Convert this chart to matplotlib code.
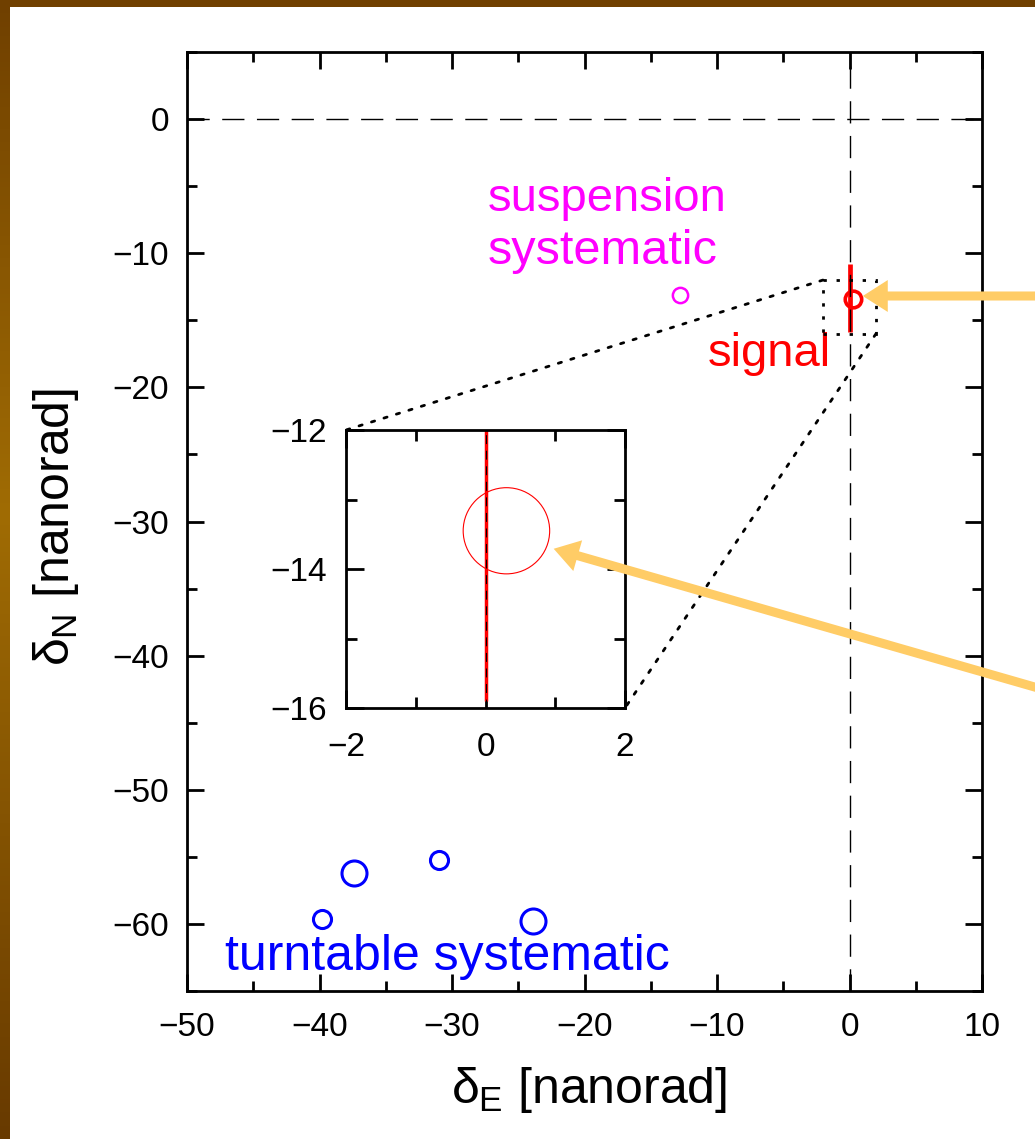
import numpy as np
import matplotlib
matplotlib.use("Agg")
import matplotlib.pyplot as plt
from matplotlib.patches import Rectangle, Ellipse, ConnectionPatch, FancyArrowPatch
from matplotlib.ticker import MultipleLocator

# ---- data ----
turntable_x = [-39.8, -37.4, -31.0, -23.9]
turntable_y = [-59.6, -56.2, -55.2, -59.8]

suspension_x = [-12.8]
suspension_y = [-13.1]

signal_x = [0.3]
signal_y = [-13.45]
signal_radius = 0.62
signal_bar_x = [0.0, 0.0]
signal_bar_y = [-15.9, -10.8]

main_xticks = [-50, -40, -30, -20, -10, 0, 10]
main_yticks = [-60, -50, -40, -30, -20, -10, 0]
inset_xticks = [-2, 0, 2]
inset_yticks = [-16, -14, -12]
zoom_box = [-2, 2, -16, -12]

# ---- style ----
FONT = ["Liberation Sans", "DejaVu Sans"]
plt.rcParams["font.family"] = FONT
plt.rcParams["mathtext.fontset"] = "custom"
plt.rcParams["mathtext.rm"] = "Liberation Sans"
plt.rcParams["mathtext.it"] = "Liberation Sans"
plt.rcParams["mathtext.sf"] = "Liberation Sans"

TICK_FS = 24
NOTE_FS = 34
LABEL_FS = 36

W, H = 1035, 1139
fig = plt.figure(figsize=(W / 100, H / 100), dpi=100)
fig.patch.set_facecolor("white")

def fx(px):
    return px / W

def fy(py):
    return 1 - py / H

# brown frame strips
frame_ax = fig.add_axes([0, 0, 1, 1], zorder=-10)
frame_ax.axis("off")
stops = np.array([[0x70, 0x40, 0x00], [0xa0, 0x6c, 0x04], [0x68, 0x3a, 0x00]]) / 255.0
t = np.linspace(0, 1, 256)
grad = np.stack([np.interp(t, [0, 0.45, 1], stops[:, k]) for k in range(3)], axis=1)
frame_ax.imshow(grad[:, None, :], extent=[0, 10, H, 0], aspect="auto")
frame_ax.add_patch(Rectangle((0, 0), W, 7, color="#704000", lw=0))
frame_ax.set_xlim(0, W)
frame_ax.set_ylim(H, 0)

# ---- main axes ----
ax = fig.add_axes([fx(187), fy(991), fx(982) - fx(187), fy(52) - fy(991)])
ax.set_xlim(-50, 10)
ax.set_ylim(-65, 5)
ax.set_xticks(main_xticks)
ax.set_yticks(main_yticks)
ax.xaxis.set_minor_locator(MultipleLocator(5))
ax.yaxis.set_minor_locator(MultipleLocator(5))
ax.tick_params(which="both", direction="in", top=True, right=True, width=2, labelsize=TICK_FS)
ax.tick_params(which="major", length=12)
ax.tick_params(which="minor", length=7.5)
ax.tick_params(axis="x", pad=15)
ax.tick_params(axis="y", pad=13)
for s in ax.spines.values():
    s.set_linewidth(2)

ax.axhline(0, color="black", lw=1, dashes=(16, 9), zorder=4)
ax.axvline(0, color="black", lw=1, dashes=(16, 9), zorder=4)

for x, y, ms in zip(turntable_x, turntable_y, [13, 18, 13, 18]):
    ax.plot([x], [y], "o", mfc="none", mec="#0000ff", ms=ms, mew=2.2)
ax.plot(suspension_x, suspension_y, "o", mfc="none", mec="#ff00ff", ms=11, mew=1.8)

ax.plot(signal_bar_x, signal_bar_y, color="#ff0000", lw=3.4, solid_capstyle="butt", zorder=3)
ax.add_patch(Ellipse((signal_x[0], signal_y[0]), 2 * signal_radius, 2 * signal_radius,
                     fill=False, ec="#ff0000", lw=2.6, zorder=3))

ax.add_patch(Rectangle((zoom_box[0], zoom_box[2]), zoom_box[1] - zoom_box[0],
                       zoom_box[3] - zoom_box[2], fill=False, ec="black", lw=2,
                       ls=(0, (1.2, 3.5)), zorder=5))

ax.text(-27.3, -6.87, "suspension", color="#ff00ff", fontsize=NOTE_FS, ha="left", va="baseline")
ax.text(-27.3, -10.82, "systematic", color="#ff00ff", fontsize=NOTE_FS + 1, ha="left", va="baseline")
ax.text(-10.7, -18.43, "signal", color="#ff0000", fontsize=NOTE_FS, ha="left", va="baseline")
ax.text(-47.1, -63.4, "turntable systematic", color="#0000ff", fontsize=NOTE_FS + 2,
        ha="left", va="baseline")

# ---- inset ----
ins = fig.add_axes([fx(346), fy(708), fx(625) - fx(346), fy(430) - fy(708)])
ins.set_xlim(zoom_box[0], zoom_box[1])
ins.set_ylim(zoom_box[2], zoom_box[3])
ins.set_xticks(inset_xticks)
ins.set_yticks(inset_yticks)
ins.xaxis.set_minor_locator(MultipleLocator(1))
ins.yaxis.set_minor_locator(MultipleLocator(1))
ins.tick_params(which="both", direction="in", top=True, right=True, width=2, labelsize=TICK_FS)
ins.tick_params(which="major", length=13)
ins.tick_params(which="minor", length=8)
ins.tick_params(axis="x", pad=17)
ins.tick_params(axis="y", pad=14)
for s in ins.spines.values():
    s.set_linewidth(2)
ins.plot(signal_bar_x, signal_bar_y, color="#ff0000", lw=2.5, solid_capstyle="butt")
ins.axvline(0, color="black", lw=0.8, dashes=(8, 6), zorder=4)
ins.add_patch(Ellipse((signal_x[0], signal_y[0]), 2 * signal_radius, 2 * signal_radius,
                      fill=False, ec="#ff0000", lw=0.8))

for (xa, ya) in [(zoom_box[0], zoom_box[3]), (zoom_box[1], zoom_box[2])]:
    con = ConnectionPatch(xyA=(xa, ya), coordsA=ax.transData, xyB=(xa, ya), coordsB=ins.transData,
                          color="black", lw=2, ls=(0, (1.2, 3.5)), zorder=6)
    fig.add_artist(con)

# ---- axis labels ----
fig.text(fx(589), fy(1090), r"$\delta_\mathrm{E}$ [nanorad]", fontsize=LABEL_FS,
         ha="center", va="center")
fig.text(fx(56), fy(527), r"$\delta_\mathrm{N}$ [nanorad]", fontsize=LABEL_FS,
         ha="center", va="center", rotation=90)

# ---- pointer arrows ----
for (x0, y0), (x1, y1) in [((1045, 296), (860, 296)), ((1045, 690), (551, 548))]:
    arr = FancyArrowPatch((fx(x0), fy(y0)), (fx(x1), fy(y1)), transform=fig.transFigure,
                          arrowstyle="simple,head_length=18,head_width=23,tail_width=6.5",
                          mutation_scale=1, color="#ffcc66", lw=0, zorder=20)
    fig.add_artist(arr)

fig.savefig("out.png", dpi=100)
